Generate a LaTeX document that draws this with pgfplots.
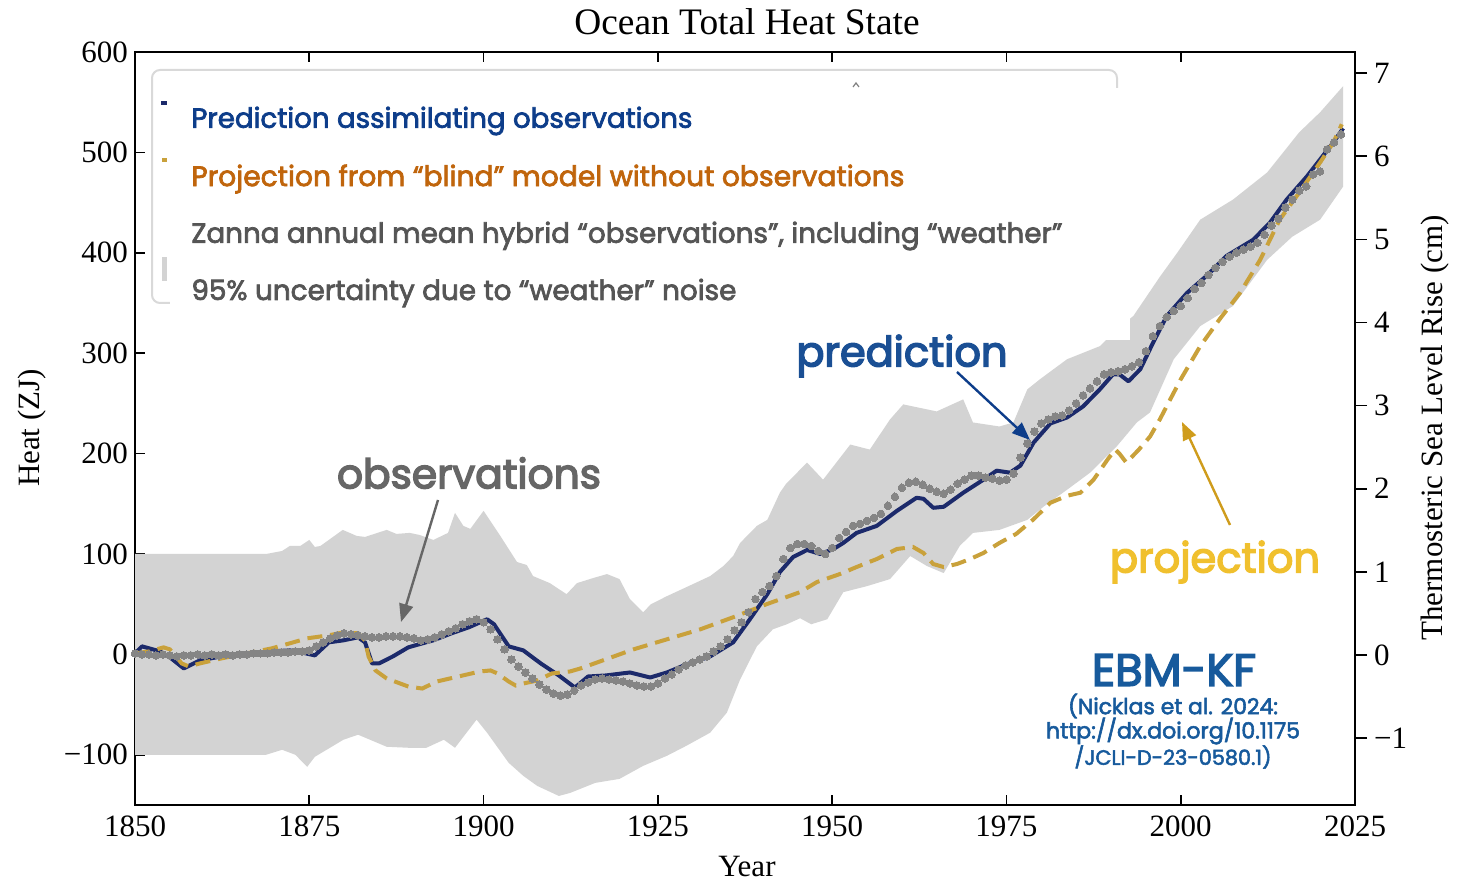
\documentclass[border=0pt]{standalone}
\usepackage{fontspec}
\setmainfont{Liberation Serif}
\newfontfamily\pop{Poppins}
\newfontfamily\popm[FakeBold=2.6]{Poppins}
\newfontfamily\popsb[FakeBold=3.5]{Poppins}
\usepackage{graphicx}
\usepackage{pgfplots}
\usepackage{pgfplotstable}
\pgfplotsset{compat=1.18}
\usepgfplotslibrary{fillbetween}
\usetikzlibrary{arrows.meta}

\definecolor{navyline}{HTML}{1C2A6B}
\definecolor{dashgold}{HTML}{C9A13B}
\definecolor{dotgray}{HTML}{858585}
\definecolor{bandgray}{HTML}{D3D3D3}
\definecolor{legframe}{HTML}{D9D9D9}
\definecolor{legblue}{HTML}{0D3D8A}
\definecolor{legorange}{HTML}{C0650C}
\definecolor{leggray}{HTML}{555555}
\definecolor{obsgray}{HTML}{666666}
\definecolor{predblue}{HTML}{1A4F94}
\definecolor{projgold}{HTML}{F0C02E}
\definecolor{arrowgold}{HTML}{CF9C1C}
\definecolor{ebmblue}{HTML}{175A9C}

% EBM-KF prediction assimilating observations (ZJ)
\pgfplotstableread{
year heat
1850 1
1851 8
1853.6 3
1855.2 -4
1857 -14
1859.3 -6
1862.4 -2
1866 1
1869.6 3
1872.2 4
1874.5 1
1875.8 -1
1877.8 12
1879.9 14
1882 17
1883 12
1884 -9
1885 -9
1887 -2
1889.2 7
1890.2 9
1892.8 14
1895.4 21
1897.9 27
1900.5 35
1901.5 30
1903.6 8
1905.7 4
1908.2 -9
1910.8 -21
1913.1 -33
1915 -22
1917.5 -21
1921 -18
1923.9 -23
1926.3 -18
1929.1 -10
1932.5 -2
1935.8 12
1938.2 35
1940.7 60
1942.5 82
1944.4 97
1946.4 104
1948.3 100
1950.2 105
1951.6 111
1953.5 121
1956.4 128
1959.3 143
1962.1 156
1963.1 155
1964.5 146
1966 147
1968.8 161
1971.7 174
1973.6 183
1975.5 181
1977 188
1978.9 211
1981.3 230
1983.7 236
1986 247
1988.4 264
1990.3 279
1991.2 279
1992.5 272
1994.2 284
1996 310
1998 337
2000.9 360
2003.7 377
2006.6 397
2010.4 413
2012.8 430
2015.2 453
2018.1 476
2020 493
2021.9 510
2023.3 524
}\prediction

% blind model projection (ZJ)
\pgfplotstableread{
year heat
1850 1
1852.1 3
1854.1 7
1855 5
1856.7 -9
1857.7 -12
1859.3 -9
1862.4 -4
1866 1
1869.6 6
1872.2 11
1874.7 16
1877.8 19
1879.9 22
1882 21
1883 14
1883.5 -2
1884.5 -16
1886.1 -24
1889.2 -32
1891.2 -34
1893.3 -27
1896.4 -22
1899.5 -17
1901 -16
1902 -19
1903.6 -27
1904.6 -31
1905.7 -29
1907.7 -26
1909.8 -19
1912.4 -17
1913.9 -14
1916.7 -7
1921.5 5
1926.3 15
1931.1 25
1935.8 37
1940.6 50
1945.4 62
1947.8 72
1951.1 80
1953.5 87
1956.4 95
1959.3 105
1961.6 107
1963.1 101
1964.5 90
1966 87
1967.9 90
1969.8 95
1971.7 101
1974 111
1976.4 120
1978.8 134
1981.3 151
1983.7 158
1985.6 161
1987.5 174
1989.5 194
1990.6 204
1991.2 200
1992.2 191
1994 204
1995.6 217
1997 234
2000 274
2002.8 307
2005.6 334
2008.5 360
2011.4 393
2014.2 433
2017 460
2020 490
2021.9 510
2023.1 528
}\projection

% annual hybrid observations (ZJ)
\pgfplotstableread{
year heat
1850 1
1851 0
1852 0
1853 -1
1854 0
1855 -1
1856 -2
1857 -1
1858 -1
1859 0
1860 -1
1861 0
1862 -1
1863 0
1864 -1
1865 0
1866 0
1867 1
1868 1
1869 1
1870 2
1871 2
1872 2
1873 3
1874 3
1875 4
1876 8
1877 12
1878 16
1879 19
1880 21
1881 20
1882 19
1883 18
1884 17
1885 17
1886 18
1887 18
1888 18
1889 17
1890 16
1891 14
1892 15
1893 17
1894 20
1895 23
1896 26
1897 30
1898 33
1899 35
1900 32
1901 25
1902 15
1903 5
1904 -5
1905 -12
1906 -18
1907 -24
1908 -30
1909 -35
1910 -39
1911 -41
1912 -40
1913 -36
1914 -31
1915 -28
1916 -25
1917 -24
1918 -25
1919 -26
1920 -27
1921 -29
1922 -31
1923 -32
1924 -32
1925 -29
1926 -24
1927 -20
1928 -15
1929 -11
1930 -8
1931 -5
1932 -2
1933 3
1934 8
1935 15
1936 24
1937 32
1938 42
1939 55
1940 62
1941 68
1942 78
1943 95
1944 106
1945 110
1946 110
1947 108
1948 103
1949 100
1950 106
1951 116
1952 122
1953 128
1954 130
1955 133
1956 136
1957 140
1958 148
1959 157
1960 166
1961 171
1962 172
1963 169
1964 165
1965 162
1966 160
1967 164
1968 170
1969 174
1970 178
1971 178
1972 176
1973 175
1974 173
1975 174
1976 180
1977 196
1978 210
1979 222
1980 230
1981 234
1982 237
1983 238
1984 243
1985 250
1986 258
1987 265
1988 272
1989 279
1990 281
1991 282
1992 284
1993 287
1994 291
1995 302
1996 317
1997 327
1998 336
1999 342
2000 347
2001 355
2002 364
2003 370
2004 378
2005 385
2006 391
2007 396
2008 400
2009 403
2010 406
2011 410
2012 418
2013 427
2014 434
2015 445
2016 453
2017 462
2018 466
2019 478
2020 481
2021 503
2022 510
2023 518
}\observations

% 95% weather-noise envelope, upper edge (ZJ)
\pgfplotstableread{
year heat
1850 100
1868.8 100
1871.1 103
1872.2 108
1873.7 108
1875 114
1875.8 107
1876.6 108
1879.8 124
1881.8 118
1883 117
1886.1 124
1887.5 120
1889.4 121
1890.8 119
1892.8 114
1894.9 121
1895.9 141
1897.1 128
1898.1 125
1900 143
1902.4 118
1904.8 92
1906.2 89
1907.1 78
1909.5 71
1911.9 60
1913.4 71
1915.7 76
1917.7 80
1919.5 75
1921 55
1922.9 42
1924 50
1926.3 58
1929.1 67
1932.5 78
1934.4 88
1935.8 98
1936.8 111
1939.2 128
1940.7 134
1942.5 161
1943.4 170
1946.4 191
1948.7 174
1952.6 209
1955.4 204
1958.3 234
1960.2 249
1965 242
1968.8 254
1970.2 231
1974 227
1976 231
1978 264
1979.8 274
1983.7 294
1988.4 307
1991 325
1993.2 337
1997 376
1999.5 400
2002.8 433
2007.5 453
2012.4 480
2017 520
2020 540
2023.3 566
}\bandup

% 95% weather-noise envelope, lower edge (ZJ)
\pgfplotstableread{
year heat
1850 -100
1868.8 -100
1871.1 -95
1873 -100
1874.7 -112
1875.8 -102
1879.9 -85
1882 -80
1886.1 -92
1889.2 -93
1891.8 -93
1894.3 -85
1895.9 -93
1899 -65
1900.5 -78
1903.6 -108
1905.7 -121
1907.7 -131
1910.8 -141
1912.4 -138
1916 -128
1919.5 -124
1922.9 -111
1926.3 -101
1929.1 -91
1932.5 -78
1934.9 -58
1936.8 -25
1939.2 8
1941.5 25
1943.5 30
1945.4 36
1947 30
1949.3 35
1951.6 62
1955 68
1958.3 75
1961.2 98
1963.6 88
1966 81
1968.3 108
1970.2 121
1974 124
1978 134
1980.3 147
1983.7 164
1987 181
1990.8 207
1993.7 231
1995.6 241
1999 294
2002.8 327
2007.5 347
2012.4 393
2016 416
2020 433
2023.3 466
}\bandlo

\begin{document}
\begin{tikzpicture}

\begin{axis}[
  at={(67.5pt,38.5pt)}, anchor=south west, scale only axis,
  width=610pt, height=376.5pt,
  xmin=1850, xmax=2025, ymin=-150, ymax=600,
  axis line style={line width=1pt},
  xtick={1850,1875,1900,1925,1950,1975,2000,2025},
  xticklabels={1850,1875,1900,1925,1950,1975,2000,2025},
  ytick={-100,0,100,200,300,400,500,600},
  yticklabels={−100,0,100,200,300,400,500,600},
  xtick pos=both, xticklabel pos=bottom, ytick pos=left,
  tick align=inside, major tick length=5pt,
  tick style={black, line width=0.8pt},
  ticklabel style={font=\fontsize{15.5pt}{18pt}\selectfont},
  xticklabel style={yshift=-2pt},
  clip=true,
]
  \addplot[name path=bandup, draw=none, forget plot] table[x=year,y=heat] {\bandup};
  \addplot[name path=bandlo, draw=none, forget plot] table[x=year,y=heat] {\bandlo};
  \addplot[bandgray, draw=none] fill between[of=bandup and bandlo];
  \addplot[navyline, line width=2pt, line join=round] table[x=year,y=heat] {\prediction};
  \addplot[dashgold, line width=2pt, dash pattern=on 7.5pt off 4pt] table[x=year,y=heat] {\projection};
  \addplot[dotgray, only marks, mark=*, mark size=1.9pt, mark options={draw=dotgray, fill=dotgray, line width=0pt}] table[x=year,y=heat] {\observations};
\end{axis}

% sea level scale: 1 cm of thermosteric rise per 82.8 ZJ
\begin{axis}[
  at={(67.5pt,38.5pt)}, anchor=south west, scale only axis,
  width=610pt, height=376.5pt,
  xmin=1850, xmax=2025, ymin=-1.8045, ymax=7.254,
  hide x axis, axis y line*=right,
  axis line style={line width=1pt},
  ytick={-1,0,1,2,3,4,5,6,7},
  yticklabels={−1,0,1,2,3,4,5,6,7},
  tick align=outside, major tick length=6pt,
  tick style={black, line width=0.8pt},
  ticklabel style={font=\fontsize{15.5pt}{18pt}\selectfont},
]
  \addplot[draw=none] coordinates {(1850,0) (2025,0)};
\end{axis}

\begin{scope}[yshift=441pt, x=0.5pt, y=-0.5pt]
  % titles and axis names
  \node[font=\fontsize{18.7pt}{22pt}\selectfont] at (747,22) {Ocean Total Heat State};
  \node[font=\fontsize{15.5pt}{18pt}\selectfont] at (747,867) {Year};
  \node[font=\fontsize{15.5pt}{18pt}\selectfont, rotate=90] at (32,428) {Heat (ZJ)};
  \node[font=\fontsize{15.5pt}{18pt}\selectfont, rotate=90] at (1435,428) {Thermosteric Sea Level Rise (cm)};

  % legend frame with its swatches
  \draw[legframe, line width=1pt, rounded corners=4pt, fill=white] (152,70) rectangle (1117,303);
  \draw[navyline, line width=2pt] (161,103) -- (167,103);
  \draw[dashgold, line width=2pt] (162,160) -- (167,160);
  \fill[bandgray] (162,257) rectangle (167,281);
  \draw[gray, line width=0.6pt] (853,87) -- (856,83) -- (859,87);

  % caption panel over the legend
  \fill[white] (170,88) rectangle (1130,340);
  \node[anchor=west, inner sep=0pt, text=legblue] at (191,121) {\resizebox{250.5pt}{!}{\popm Prediction assimilating observations}};
  \node[anchor=west, inner sep=0pt, text=legorange] at (191,179) {\resizebox{356.5pt}{!}{\popm Projection from “blind” model without observations}};
  \node[anchor=west, inner sep=0pt, text=leggray] at (191,236) {\resizebox{435.5pt}{!}{\popm Zanna annual mean hybrid “observations”, including “weather”}};
  \node[anchor=west, inner sep=0pt, text=leggray] at (191,293) {\resizebox{272.5pt}{!}{\popm 95\% uncertainty due to “weather” noise}};

  % callouts
  \node[inner sep=0pt, text=obsgray] at (469,473) {\resizebox{132pt}{!}{\popsb observations}};
  \node[inner sep=0pt, text=predblue] at (902,356) {\resizebox{105.5pt}{!}{\popsb prediction}};
  \node[inner sep=0pt, text=projgold] at (1215,562) {\resizebox{105pt}{!}{\popsb projection}};
  \draw[-{Triangle[length=9pt,width=7pt]}, obsgray, line width=1.2pt] (438,500) -- (401,622);
  \draw[-{Triangle[length=9pt,width=7pt]}, legblue, line width=1.2pt] (957,372) -- (1030,440);
  \draw[-{Triangle[length=9pt,width=7pt]}, arrowgold, line width=1.2pt] (1230,525) -- (1182,422);

  % model reference
  \node[inner sep=0pt, text=ebmblue] at (1174,670) {\resizebox{82pt}{!}{\popsb EBM-KF}};
  \node[inner sep=0pt, text=ebmblue] at (1173,706) {\resizebox{105pt}{!}{\popm (Nicklas et al. 2024:}};
  \node[inner sep=0pt, text=ebmblue] at (1173,731) {\resizebox{127pt}{!}{\popm http://dx.doi.org/10.1175}};
  \node[inner sep=0pt, text=ebmblue] at (1173,757) {\resizebox{98.5pt}{!}{\popm /JCLI-D-23-0580.1)}};
\end{scope}

\pgfresetboundingbox
\useasboundingbox (0,0) rectangle (728.5pt,441pt);
\end{tikzpicture}
\end{document}
